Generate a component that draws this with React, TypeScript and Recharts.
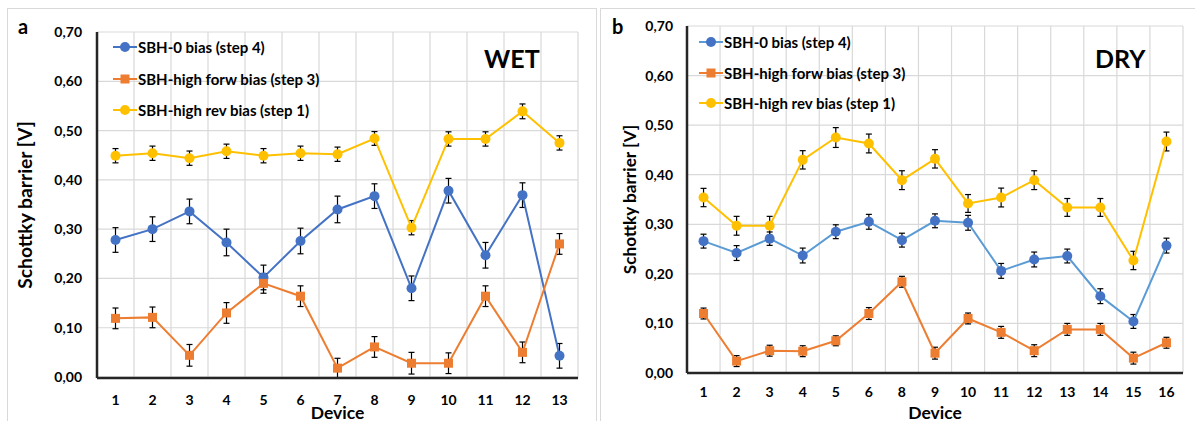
import { LineChart, Line, XAxis, YAxis, CartesianGrid, ErrorBar, Legend, Label } from 'recharts'

// WET (panel a)
const wetDevices = ['1', '2', '3', '4', '5', '6', '7', '8', '9', '10', '11', '12', '13']
const wetZero = [0.278, 0.3, 0.336, 0.273, 0.202, 0.276, 0.34, 0.367, 0.18, 0.378, 0.247, 0.369, 0.043]
const wetZeroErr = [0.025, 0.025, 0.025, 0.027, 0.025, 0.026, 0.027, 0.025, 0.025, 0.025, 0.026, 0.025, 0.025]
const wetForw = [0.119, 0.121, 0.044, 0.13, 0.19, 0.164, 0.018, 0.061, 0.028, 0.028, 0.164, 0.05, 0.27]
const wetForwErr = [0.021, 0.021, 0.022, 0.021, 0.02, 0.021, 0.02, 0.021, 0.022, 0.021, 0.021, 0.021, 0.021]
const wetRev = [0.449, 0.454, 0.444, 0.458, 0.449, 0.454, 0.452, 0.484, 0.303, 0.483, 0.483, 0.539, 0.475]
const wetRevErr = [0.0145, 0.0145, 0.0145, 0.0145, 0.0145, 0.0145, 0.0145, 0.014, 0.0145, 0.0145, 0.0145, 0.015, 0.0145]

// DRY (panel b) - no device 7
const dryDevices = ['1', '2', '3', '4', '5', '6', '8', '9', '10', '11', '12', '13', '14', '15', '16']
const dryZero = [0.266, 0.242, 0.271, 0.237, 0.285, 0.305, 0.268, 0.307, 0.303, 0.206, 0.229, 0.236, 0.155, 0.104, 0.257]
const dryZeroErr = [0.014, 0.015, 0.0135, 0.015, 0.014, 0.015, 0.014, 0.014, 0.015, 0.015, 0.015, 0.014, 0.015, 0.014, 0.015]
const dryForw = [0.12, 0.024, 0.045, 0.044, 0.065, 0.12, 0.184, 0.04, 0.11, 0.082, 0.045, 0.088, 0.088, 0.03, 0.061]
const dryForwErr = [0.011, 0.011, 0.011, 0.011, 0.01, 0.012, 0.011, 0.012, 0.011, 0.012, 0.012, 0.012, 0.012, 0.012, 0.011]
const dryRev = [0.354, 0.297, 0.297, 0.43, 0.475, 0.463, 0.389, 0.432, 0.342, 0.354, 0.389, 0.334, 0.334, 0.227, 0.467]
const dryRevErr = [0.0185, 0.019, 0.019, 0.0185, 0.02, 0.019, 0.019, 0.0185, 0.018, 0.019, 0.019, 0.018, 0.018, 0.0185, 0.019]

const yTicks = [0, 0.1, 0.2, 0.3, 0.4, 0.5, 0.6, 0.7]

const BLUE = '#4472C4'
const ORANGE = '#ED7D31'
const YELLOW = '#FFC000'
const FONT = 'Lato, "Open Sans", sans-serif'

const fmt = (v: number) => v.toFixed(2).replace('.', ',')

const SquareDot = (props: any) => {
  const { cx, cy, index } = props
  if (cx == null || cy == null) return <g key={index} />
  return <rect key={index} x={cx - 4.5} y={cy - 4.5} width={9} height={9} fill={ORANGE} />
}

// vertical grid lines sit between the categories
const between = (n: number) => ({ offset }: any) =>
  Array.from({ length: n + 1 }, (_, i) => offset.left + (i * offset.width) / n)

function LegendBox({ payload, rowH, zeroLine }: any) {
  return (
    <div style={{ fontFamily: FONT }}>
      {(payload || []).map((p: any) => {
        const key = p.dataKey
        const line = key === 'zero' ? zeroLine : key === 'forw' ? ORANGE : YELLOW
        return (
          <div key={key} style={{ display: 'flex', alignItems: 'center', height: rowH }}>
            <svg width={24} height={12}>
              <line x1={0} y1={6} x2={24} y2={6} stroke={line} strokeWidth={2} />
              {key === 'forw' ? (
                <rect x={7.5} y={1.5} width={9} height={9} fill={ORANGE} />
              ) : (
                <circle cx={12} cy={6} r={5} fill={key === 'zero' ? BLUE : YELLOW} />
              )}
            </svg>
            <span style={{ marginLeft: 1, fontSize: 15, fontWeight: 700, color: '#000', whiteSpace: 'nowrap' }}>
              {p.value}
            </span>
          </div>
        )
      })}
    </div>
  )
}

interface PanelProps {
  devices: string[]
  zero: number[]
  zeroErr: number[]
  forw: number[]
  forwErr: number[]
  rev: number[]
  revErr: number[]
  width: number
  top: number
  right: number
  yWidth: number
  xHeight: number
  yGap: number
  xGap: number
  titleOffset: number
  titleSize: number
  zeroLine: string
  legendLeft: number
  legendTop: number
  rowH: number
}

function Panel(p: PanelProps) {
  const data = p.devices.map((d, i) => ({
    device: d,
    zero: p.zero[i],
    zeroErr: p.zeroErr[i],
    forw: p.forw[i],
    forwErr: p.forwErr[i],
    rev: p.rev[i],
    revErr: p.revErr[i],
  }))
  const tickStyle = { fontSize: 14, fontWeight: 700, fill: '#000', fontFamily: FONT }
  return (
    <LineChart width={p.width} height={421} data={data} margin={{ top: p.top, right: p.right, left: 0, bottom: 0 }}>
      <CartesianGrid stroke="#d9d9d9" strokeWidth={1.2} verticalCoordinatesGenerator={between(p.devices.length)} />
      <XAxis
        dataKey="device"
        scale="band"
        height={p.xHeight}
        tickLine={false}
        tickSize={p.xGap - 6}
        tickMargin={6}
        axisLine={{ stroke: '#262626', strokeWidth: 2.5 }}
        tick={tickStyle}
        interval={0}
      >
        <Label value="Device" position="insideBottom" offset={2} style={{ fontSize: 17.5, fontWeight: 700, fill: '#000', fontFamily: FONT }} />
      </XAxis>
      <XAxis xAxisId="top" orientation="top" dataKey="device" scale="band" height={0} tick={false} tickLine={false} axisLine={{ stroke: '#000', strokeWidth: 2 }} />
      <YAxis
        domain={[0, 0.7]}
        ticks={yTicks}
        width={p.yWidth}
        tickLine={false}
        tickSize={p.yGap - 7}
        tickMargin={7}
        tickFormatter={fmt}
        axisLine={{ stroke: '#262626', strokeWidth: 2.5 }}
        tick={tickStyle}
      >
        <Label
          value="Schottky barrier [V]"
          angle={-90}
          position="insideLeft"
          offset={p.titleOffset}
          style={{ textAnchor: 'middle', fontSize: p.titleSize, fontWeight: 700, fill: '#000', fontFamily: FONT }}
        />
      </YAxis>
      <YAxis yAxisId="r" orientation="right" domain={[0, 0.7]} width={0} tick={false} tickLine={false} axisLine={{ stroke: '#000', strokeWidth: 2 }} />
      <Legend
        layout="vertical"
        align="center"
        verticalAlign="middle"
        wrapperStyle={{ left: p.legendLeft, top: p.legendTop - p.rowH / 2, width: 'auto' }}
        content={(props: any) => <LegendBox payload={props.payload} rowH={p.rowH} zeroLine={p.zeroLine} />}
      />
      <Line
        dataKey="zero"
        name="SBH-0 bias (step 4)"
        stroke={p.zeroLine}
        strokeWidth={2}
        dot={{ r: 5, fill: BLUE, stroke: BLUE, strokeWidth: 0 }}
        activeDot={false}
        isAnimationActive={false}
      >
        <ErrorBar dataKey="zeroErr" width={3} stroke="#000" strokeWidth={1.2} />
      </Line>
      <Line
        dataKey="forw"
        name="SBH-high forw bias (step 3)"
        stroke={ORANGE}
        strokeWidth={2}
        dot={SquareDot}
        activeDot={false}
        isAnimationActive={false}
      >
        <ErrorBar dataKey="forwErr" width={3} stroke="#000" strokeWidth={1.2} />
      </Line>
      <Line
        dataKey="rev"
        name="SBH-high rev bias (step 1)"
        stroke={YELLOW}
        strokeWidth={2}
        dot={{ r: 5, fill: YELLOW, stroke: YELLOW, strokeWidth: 0 }}
        activeDot={false}
        isAnimationActive={false}
      >
        <ErrorBar dataKey="revErr" width={3} stroke="#000" strokeWidth={1.2} />
      </Line>
    </LineChart>
  )
}

export default function App() {
  return (
    <div
      style={{
        position: 'absolute',
        left: 0,
        top: 0,
        width: 1195,
        height: 421,
        overflow: 'hidden',
        background: '#fff',
        fontFamily: FONT,
      }}
    >
      <div style={{ position: 'absolute', left: 7, top: 8, width: 588, height: 430, border: '1px solid #d9d9d9' }} />
      <div style={{ position: 'absolute', left: 600, top: 8, width: 620, height: 430, border: '1px solid #d9d9d9' }} />
      <div style={{ position: 'absolute', left: 0, top: 0 }}>
        <Panel
          devices={wetDevices}
          zero={wetZero}
          zeroErr={wetZeroErr}
          forw={wetForw}
          forwErr={wetForwErr}
          rev={wetRev}
          revErr={wetRevErr}
          width={596}
          top={32}
          right={18}
          yWidth={97}
          xHeight={43}
          yGap={15}
          xGap={17}
          titleOffset={25}
          titleSize={19.3}
          zeroLine={BLUE}
          legendLeft={113}
          legendTop={47}
          rowH={31.7}
        />
      </div>
      <div style={{ position: 'absolute', left: 600, top: 0 }}>
        <Panel
          devices={dryDevices}
          zero={dryZero}
          zeroErr={dryZeroErr}
          forw={dryForw}
          forwErr={dryForwErr}
          rev={dryRev}
          revErr={dryRevErr}
          width={595}
          top={26}
          right={12}
          yWidth={87}
          xHeight={48}
          yGap={14}
          xGap={14}
          titleOffset={30}
          titleSize={17.2}
          zeroLine="#5B9BD5"
          legendLeft={99}
          legendTop={42}
          rowH={30.5}
        />
      </div>
      <svg width={1195} height={421} style={{ position: 'absolute', left: 0, top: 0, pointerEvents: 'none' }}>
        <text x={18} y={34} fontSize={20} fontWeight={700} fontFamily={FONT} fill="#000">a</text>
        <text x={612} y={34} fontSize={20} fontWeight={700} fontFamily={FONT} fill="#000">b</text>
        <text x={484} y={68} fontSize={25} fontWeight={700} fontFamily={FONT} fill="#000">WET</text>
        <text x={1095} y={68} fontSize={25} fontWeight={700} fontFamily={FONT} fill="#000">DRY</text>
      </svg>
    </div>
  )
}
